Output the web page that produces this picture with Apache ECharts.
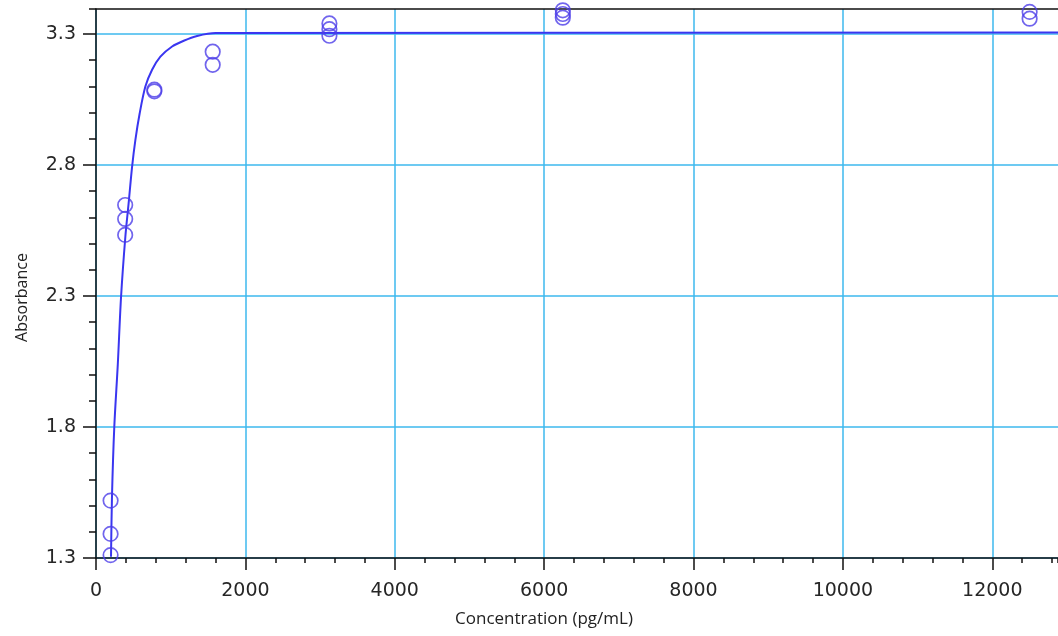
<!DOCTYPE html>
<html>
<head>
<meta charset="utf-8">
<script src="https://cdn.jsdelivr.net/npm/echarts/dist/echarts.min.js"></script>
<style>
  html, body { margin: 0; padding: 0; background: #fff; }
  #elisa_curve { width: 1058px; height: 636px; }
</style>
</head>
<body>
<div id="elisa_curve"></div>
<script>
// standards (pg/mL) and their replicate absorbance readings
var stdConc = [195.3, 390.6, 781.25, 1562.5, 3125, 6250, 12500];
var stdAbs = [
    [1.519, 1.392, 1.311],
    [2.647, 2.594, 2.533],
    [3.087, 3.081],
    [3.232, 3.182],
    [3.340, 3.318, 3.293],
    [3.390, 3.376, 3.362],
    [3.384, 3.358]
];
// fitted curve
var fitConc = [201, 214, 245, 292, 335, 393, 437, 482, 527, 585, 661, 751, 862, 1019, 1175, 1354, 1600, 12880];
var fitAbs = [1.305, 1.534, 1.801, 2.04, 2.294, 2.526, 2.654, 2.79, 2.895, 2.997, 3.099, 3.163, 3.213, 3.252, 3.274, 3.292, 3.303, 3.305];
// tick labels
var xTicks = [0, 2000, 4000, 6000, 8000, 10000, 12000];
var yTicks = [1.3, 1.8, 2.3, 2.8, 3.3];

var elisa_curve = echarts.init(document.getElementById('elisa_curve'));

var stdPoints = [];
for (var i = 0; i < stdConc.length; i++) {
    for (var j = 0; j < stdAbs[i].length; j++) {
        stdPoints.push([stdConc[i], stdAbs[i][j]]);
    }
}
var fitPoints = fitConc.map(function (c, k) { return [c, fitAbs[k]]; });

var xMin = 0, xMax = 12880, yMin = 1.3, yMax = 3.395;
var gridBlue = '#3cb8ee';
var axisBlack = '#111';
var labelFamily = '"DejaVu Sans", Verdana, sans-serif';

var elisa_curve_option = {
    animation: false,
    backgroundColor: '#fff',
    grid: {
        left: 96,
        right: 0,
        top: 9,
        bottom: 78
    },
    xAxis: [
        {
            type: 'value',
            position: 'bottom',
            min: xMin,
            max: xMax,
            interval: 2000,
            name: 'Concentration (pg/mL)',
            nameLocation: 'middle',
            nameGap: 53,
            nameTextStyle: {
                fontFamily: 'Open Sans',
                fontSize: 17,
                color: '#222',
                padding: [0, 66, 0, 0]
            },
            axisLine: { lineStyle: { color: axisBlack, width: 1.5 } },
            axisTick: { length: 12, customValues: xTicks, lineStyle: { color: axisBlack, width: 1.5 } },
            axisLabel: {
                customValues: xTicks,
                margin: 24,
                fontFamily: labelFamily,
                fontSize: 19,
                color: '#262626',
                formatter: function (v) { return String(v); }
            },
            splitLine: { show: true, lineStyle: { color: gridBlue, width: 1.5 } }
        },
        {
            // minor ticks
            type: 'value',
            position: 'bottom',
            min: xMin,
            max: xMax,
            interval: 400,
            axisLine: { show: false },
            axisTick: { length: 5, lineStyle: { color: axisBlack, width: 1.5 } },
            axisLabel: { show: false },
            splitLine: { show: false }
        },
        {
            // top frame line
            type: 'value',
            position: 'top',
            min: xMin,
            max: xMax,
            axisLine: { show: true, lineStyle: { color: axisBlack, width: 1.5 } },
            axisTick: { show: false },
            axisLabel: { show: false },
            splitLine: { show: false }
        }
    ],
    yAxis: [
        {
            type: 'value',
            position: 'left',
            min: yMin,
            max: yMax,
            interval: 0.5,
            name: 'Absorbance',
            nameLocation: 'middle',
            nameRotate: 90,
            nameGap: 66,
            nameTextStyle: {
                fontFamily: 'Open Sans',
                fontSize: 16,
                color: '#222',
                padding: [0, 28, 0, 0]
            },
            axisLine: { show: true, lineStyle: { color: axisBlack, width: 1.5 } },
            axisTick: { show: true, length: 13, customValues: yTicks, lineStyle: { color: axisBlack, width: 1.5 } },
            axisLabel: {
                customValues: yTicks,
                margin: 20,
                fontFamily: labelFamily,
                fontSize: 19,
                color: '#262626',
                formatter: function (v) { return v.toFixed(1); }
            },
            splitLine: { show: true, lineStyle: { color: gridBlue, width: 1.5 } }
        },
        {
            // minor ticks
            type: 'value',
            position: 'left',
            min: yMin,
            max: yMax,
            interval: 0.1,
            axisLine: { show: false },
            axisTick: { show: true, length: 7, lineStyle: { color: axisBlack, width: 1.5 } },
            axisLabel: { show: false },
            splitLine: { show: false }
        }
    ],
    series: [
        {
            name: 'fit',
            type: 'line',
            smooth: 0.3,
            showSymbol: false,
            clip: true,
            color: '#3a36f0',
            lineStyle: { width: 2, color: '#3a36f0' },
            data: fitPoints,
            z: 3
        },
        {
            name: 'standards',
            type: 'scatter',
            symbol: 'circle',
            symbolSize: 14.5,
            clip: false,
            itemStyle: {
                color: 'rgba(0,0,0,0)',
                borderColor: '#4c3de9',
                borderWidth: 1.7
            },
            data: stdPoints,
            z: 4
        }
    ]
};

elisa_curve.setOption(elisa_curve_option);
</script>
</body>
</html>
